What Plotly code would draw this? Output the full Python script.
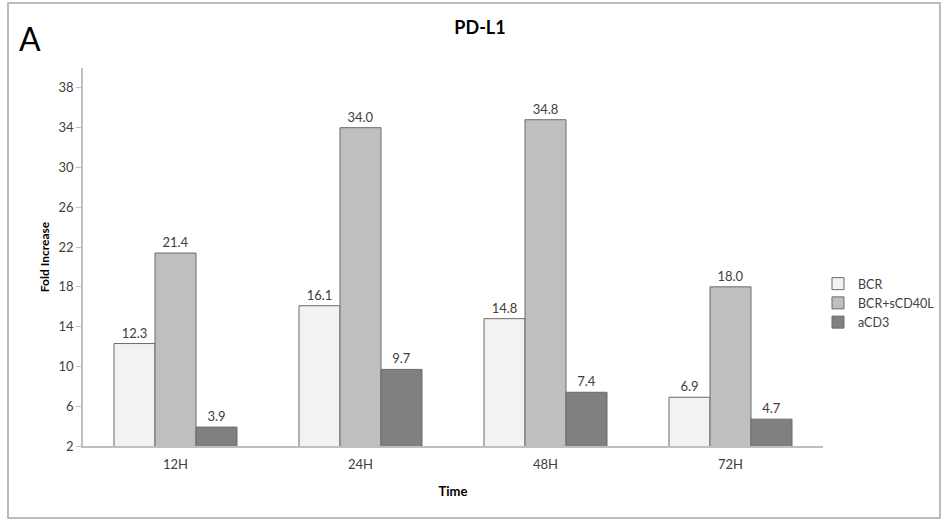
import plotly.graph_objects as go

categories = ["12H", "24H", "48H", "72H"]
series_names = ["BCR", "BCR+sCD40L", "aCD3"]
bcr = [12.3, 16.1, 14.8, 6.9]
bcr_cd40l = [21.4, 34.0, 34.8, 18.0]
acd3 = [3.9, 9.7, 7.4, 4.7]
y_ticks = [2, 6, 10, 14, 18, 22, 26, 30, 34, 38]

colors = ["#f2f2f2", "#bfbfbf", "#808080"]
FONT = "Lato, 'Open Sans', sans-serif"

W, H = 948, 521
L, R, T, B = 83, 125, 68, 75
pw, ph = W - L - R, H - T - B

fig = go.Figure()
for name, vals, c in zip(series_names, [bcr, bcr_cd40l, acd3], colors):
    fig.add_trace(go.Bar(
        x=categories, y=vals, name=name,
        marker=dict(color=c, line=dict(color="#6a6a6a", width=1)),
        text=[f"{v:.1f}" for v in vals], textposition="outside",
        textfont=dict(size=13, color="#404040", family=FONT),
        cliponaxis=False,
    ))

def px_x(x):
    return (x - L) / pw

def px_y(y):
    return (H - B - y) / ph

fig.update_layout(
    width=W, height=H,
    margin=dict(l=L, r=R, t=T, b=B, autoexpand=False),
    paper_bgcolor="white", plot_bgcolor="white",
    barmode="group", bargap=0.335, bargroupgap=0,
    font=dict(family=FONT, color="#404040", size=13),
    title=dict(text="<b>PD-L1</b>", x=px_x(480), xref="paper", xanchor="center",
               y=1 - 28 / H, yanchor="middle",
               font=dict(size=18, color="#000000", family=FONT)),
    xaxis=dict(showline=True, linecolor="#bfbfbf", linewidth=1.5, ticks="",
               tickfont=dict(size=13, color="#404040"), ticklabelstandoff=6,
               title=dict(text="<b>Time</b>", font=dict(size=13, color="#000000"), standoff=16)),
    yaxis=dict(range=[2, 40], tickvals=y_ticks, showgrid=False, zeroline=False,
               showline=True, linecolor="#bfbfbf", linewidth=1.5,
               ticks="outside", ticklen=5, tickcolor="#bfbfbf",
               tickfont=dict(size=13, color="#404040"),
               title=dict(text="<b>Fold Increase</b>", font=dict(size=12, color="#000000"), standoff=6)),
    legend=dict(x=px_x(818), xanchor="left", y=px_y(303), yanchor="middle",
                font=dict(size=12.5, color="#404040"), itemwidth=30,
                bgcolor="rgba(0,0,0,0)"),
    showlegend=True,
)

fig.add_annotation(text="A", xref="paper", yref="paper", x=px_x(17), y=px_y(38),
                   xanchor="left", yanchor="middle", showarrow=False,
                   font=dict(size=32, color="#000000", family=FONT))

fig.add_shape(type="rect", xref="paper", yref="paper",
              x0=px_x(8), x1=px_x(940), y0=px_y(518), y1=px_y(3),
              line=dict(color="#a6a6a6", width=1.5), fillcolor="rgba(0,0,0,0)", layer="below")

fig.write_html("out.html", config={"displayModeBar": False},
               post_script="document.body.style.margin='0';document.body.style.overflow='hidden';")
